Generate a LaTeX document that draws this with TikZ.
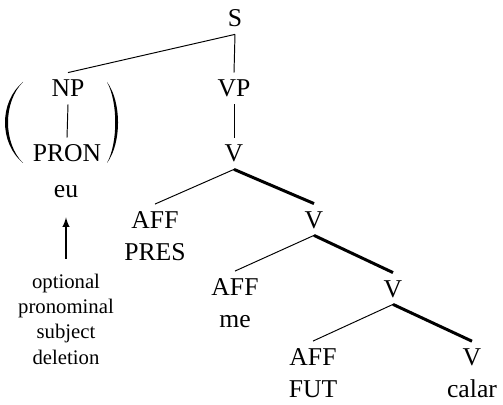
\documentclass[tikz,border=0pt]{standalone}
\usepackage{fontspec}
\setmainfont{Liberation Serif}
\begin{document}
\begin{tikzpicture}[x=0.02cm, y=-0.02cm]

% Set the overall look of the tree
\tikzstyle{word} = [font=\fontsize{14.6}{18}\selectfont, inner xsep=2pt, inner ysep=4pt, anchor=base]
\tikzstyle{cat} = [word, text height=9.7pt, text depth=0pt]
\tikzstyle{pair} = [word, align=center]
\tikzstyle{note} = [font=\fontsize{11.8}{14.4}\selectfont, align=center, anchor=base]

% Define styles for plain and head branches
\tikzstyle{arm} = [line width=0.55pt]
\tikzstyle{head} = [line width=1.7pt]

\useasboundingbox (0,0) rectangle (503,405);

% Subject side (two-line nodes sit on their last line)
\node[cat] (S) at (235,27) {S};
\node[cat] (NP) at (68,97) {NP};
\node[cat] (PRON) at (67,162) {PRON};
\node[cat] (eu) at (66,197) {eu};
\node[note] (del) at (66,364) {optional\\pronominal\\subject\\deletion};

% Verb side
\node[cat] (VP) at (234,97) {VP};
\node[cat] (V1) at (234,162) {V};
\node[pair] (AFFpres) at (155,260) {AFF\\PRES};
\node[cat] (V2) at (314,228) {V};
\node[pair] (AFFme) at (235,327) {AFF\\me};
\node[cat] (V3) at (393,297) {V};
\node[pair] (AFFfut) at (313,397) {AFF\\FUT};
\node[pair] (Vcalar) at (472,397) {V\\calar};

% Branches
\draw[arm] (S.south) -- (NP.north);
\draw[arm] (S.south) -- (VP.north);
\draw[arm] (NP.south) -- (PRON.north);
\draw[arm] (VP.south) -- (V1.north);
\draw[arm] (V1.south) -- (AFFpres.north);
\draw[head] (V1.south) -- (V2.north);
\draw[arm] (V2.south) -- (AFFme.north);
\draw[head] (V2.south) -- (V3.north);
\draw[arm] (V3.south) -- (AFFfut.north);
\draw[head] (V3.south) -- (Vcalar.north);

% Brackets round the optional subject
\fill (23,82) .. controls (-1,102) and (-1,143) .. (23,163)
    .. controls (3,143) and (3,102) .. cycle;
\fill (107,82) .. controls (121.7,102) and (121.7,143) .. (107,163)
    .. controls (118,143) and (118,102) .. cycle;

% Deletion arrow
\draw[-latex, line width=0.85pt] ([yshift=5pt]del.north) -- ([yshift=-7.4pt]eu.south);
\end{tikzpicture}
\end{document}
